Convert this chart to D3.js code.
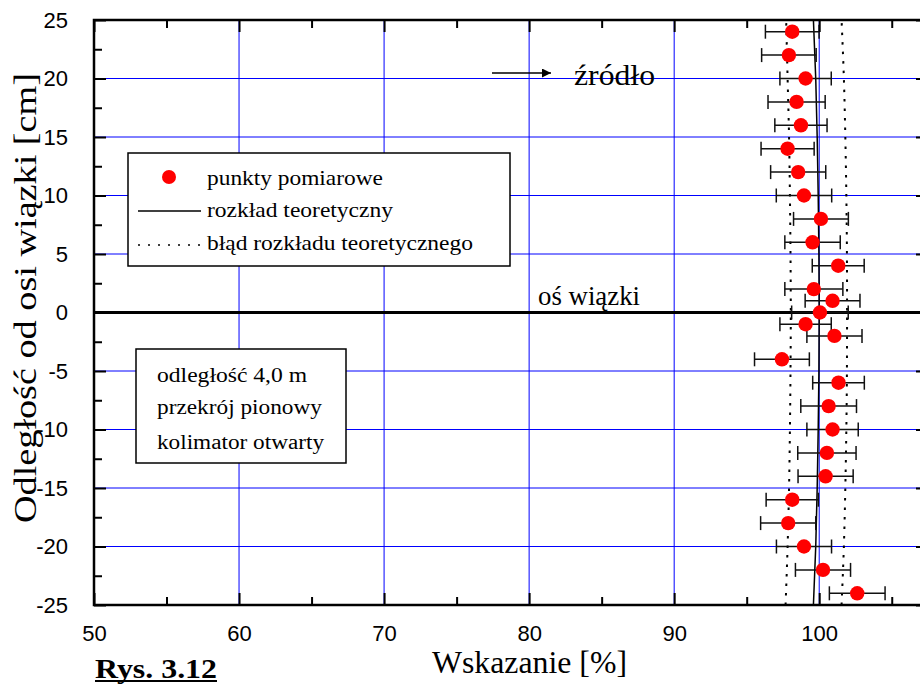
<!DOCTYPE html>
<html><head><meta charset="utf-8">
<script src="https://cdn.jsdelivr.net/npm/d3@7"></script>
<style>
body{margin:0;background:#fff;}
svg{display:block;}
</style></head>
<body>
<svg id="chart" width="920" height="684"></svg>
<script>
// ---- data ----
const distY = [24,22,20,18,16,14,12,10,8,6,4,2,1,0,-1,-2,-4,-6,-8,-10,-12,-14,-16,-18,-20,-22,-24];
const reading = [98.14,97.91,99.06,98.44,98.74,97.82,98.55,98.95,100.12,99.54,101.31,99.63,100.92,100.05,99.06,101.05,97.43,101.33,100.65,100.92,100.53,100.44,98.14,97.86,98.95,100.26,102.62];
const readingErr = [1.85,1.88,1.77,1.97,1.80,1.83,1.90,1.91,1.89,1.91,1.79,2.00,1.89,1.95,1.77,1.90,1.89,1.78,1.92,1.77,2.01,1.90,1.80,1.90,1.90,1.90,1.92];
const theoryY = [-25,-20,-15,-10,-5,0,5,10,15,20,25];
const theoryVal = [99.6,99.76,99.86,99.93,99.98,100,99.98,99.93,99.86,99.76,99.6];
const theoryLow = [97.68,97.82,97.92,97.98,98.02,98.04,98.02,97.98,97.92,97.82,97.72];
const theoryHigh = [101.54,101.7,101.8,101.87,101.91,101.92,101.91,101.87,101.8,101.7,101.54];
const xMajorTicks = [50,60,70,80,90,100];
const xMinorTicks = [55,65,75,85,95,105];
const yMajorTicks = [-25,-20,-15,-10,-5,0,5,10,15,20,25];
const yMinorTicks = [-22.5,-17.5,-12.5,-7.5,-2.5,2.5,7.5,12.5,17.5,22.5];
const xGrid = [60,70,80,90,100];
const yGrid = [-20,-15,-10,-5,5,10,15,20];
const legendLabels = ["punkty pomiarowe","rozkład teoretyczny","błąd rozkładu teoretycznego"];
const infoLines = ["odległość 4,0 m","przekrój pionowy","kolimator otwarty"];
const xTitle = "Wskazanie [%]";
const yTitle = "Odległość od osi wiązki [cm]";
const sourceLabel = "źródło";
const axisLabel = "oś wiązki";
const figLabel = "Rys. 3.12";

// ---- layout ----
const L = 94, R = 928, T = 20, B = 605;
const x = d3.scaleLinear().domain([50,107.5]).range([L,R]);
const y = d3.scaleLinear().domain([-25,25]).range([B,T]);
const svg = d3.select("#chart");
const serif = "Liberation Serif";
const sans = "Liberation Sans";

svg.append("defs").append("clipPath").attr("id","clip")
  .append("rect").attr("x",L).attr("y",T).attr("width",R-L).attr("height",B-T);

const plot = svg.append("g").attr("clip-path","url(#clip)");

// grid
plot.selectAll(".gx").data(xGrid).join("line")
  .attr("x1",d=>x(d)).attr("x2",d=>x(d)).attr("y1",T).attr("y2",B)
  .attr("stroke","#0000ff").attr("stroke-width",1);
plot.selectAll(".gy").data(yGrid).join("line")
  .attr("x1",L).attr("x2",R).attr("y1",d=>y(d)).attr("y2",d=>y(d))
  .attr("stroke","#0000ff").attr("stroke-width",1);
// beam axis line
plot.append("line").attr("x1",L).attr("x2",R).attr("y1",y(0)).attr("y2",y(0))
  .attr("stroke","#000").attr("stroke-width",3);

// theory
const pts = (vals)=>theoryY.map((v,i)=>[vals[i],v]);
const line = d3.line().x(d=>x(d[0])).y(d=>y(d[1])).curve(d3.curveMonotoneY);
plot.append("path").attr("d",line(pts(theoryVal))).attr("fill","none").attr("stroke","#000").attr("stroke-width",1.5);
plot.append("path").attr("d",line(pts(theoryLow))).attr("fill","none").attr("stroke","#000").attr("stroke-width",2).attr("stroke-dasharray","2.5,7");
plot.append("path").attr("d",line(pts(theoryHigh))).attr("fill","none").attr("stroke","#000").attr("stroke-width",2).attr("stroke-dasharray","2.5,7");

// error bars
const eb = plot.append("g").attr("stroke","#111").attr("stroke-width",1.5);
distY.forEach((dy,i)=>{
  const x0 = x(reading[i]-readingErr[i]), x1 = x(reading[i]+readingErr[i]), yy = y(dy);
  eb.append("line").attr("x1",x0).attr("x2",x1).attr("y1",yy).attr("y2",yy);
  eb.append("line").attr("x1",x0).attr("x2",x0).attr("y1",yy-7).attr("y2",yy+7);
  eb.append("line").attr("x1",x1).attr("x2",x1).attr("y1",yy-7).attr("y2",yy+7);
});
// points
plot.selectAll(".pt").data(distY).join("circle")
  .attr("cx",(d,i)=>x(reading[i])).attr("cy",d=>y(d)).attr("r",7.2).attr("fill","#ff0000");

// axes
const fmt = d=>String(d);
function styleAxis(g){
  g.select(".domain").remove();
  g.selectAll(".tick line").attr("stroke","#000").attr("stroke-width",2);
  g.selectAll("text").attr("font-family",sans).attr("font-size",22).attr("fill","#000");
}
svg.append("g").attr("transform",`translate(0,${B})`)
  .call(d3.axisBottom(x).tickValues(xMajorTicks).tickSize(-12).tickPadding(20).tickFormat(fmt)).call(styleAxis);
svg.append("g").attr("transform",`translate(0,${B})`)
  .call(d3.axisBottom(x).tickValues(xMinorTicks).tickSize(-8).tickFormat("")).call(styleAxis);
svg.append("g").attr("transform",`translate(0,${T})`)
  .call(d3.axisTop(x).tickValues(xMajorTicks).tickSize(-12).tickFormat("")).call(styleAxis);
svg.append("g").attr("transform",`translate(0,${T})`)
  .call(d3.axisTop(x).tickValues(xMinorTicks).tickSize(-8).tickFormat("")).call(styleAxis);
svg.append("g").attr("transform",`translate(${L},0)`)
  .call(d3.axisLeft(y).tickValues(yMajorTicks).tickSize(-12).tickPadding(26).tickFormat(fmt)).call(styleAxis);
svg.append("g").attr("transform",`translate(${L},0)`)
  .call(d3.axisLeft(y).tickValues(yMinorTicks).tickSize(-8).tickFormat("")).call(styleAxis);
svg.append("g").attr("transform",`translate(${R},0)`)
  .call(d3.axisRight(y).tickValues(yMajorTicks).tickSize(-12).tickFormat("")).call(styleAxis);
svg.append("g").attr("transform",`translate(${R},0)`)
  .call(d3.axisRight(y).tickValues(yMinorTicks).tickSize(-8).tickFormat("")).call(styleAxis);
svg.append("rect").attr("x",L).attr("y",T).attr("width",R-L).attr("height",B-T)
  .attr("fill","none").attr("stroke","#000").attr("stroke-width",2.5);

function stext(sel, size, len){
  sel.attr("font-family",serif).attr("font-size",size).attr("fill","#000");
  if(len) sel.attr("textLength",len).attr("lengthAdjust","spacingAndGlyphs");
  return sel;
}

// legend box
const lg = svg.append("g");
lg.append("rect").attr("x",128).attr("y",153).attr("width",382).attr("height",113)
  .attr("fill","#fff").attr("stroke","#000").attr("stroke-width",1.5);
lg.append("circle").attr("cx",169).attr("cy",177).attr("r",7).attr("fill","#ff0000");
lg.append("line").attr("x1",138).attr("x2",201).attr("y1",211).attr("y2",211).attr("stroke","#000").attr("stroke-width",1.3);
lg.append("line").attr("x1",138).attr("x2",201).attr("y1",245).attr("y2",245).attr("stroke","#000").attr("stroke-width",1.3).attr("stroke-dasharray","2,8");
const legLen = [176,186,266];
lg.selectAll("text").data(legendLabels).join("text")
  .attr("x",207).attr("y",(d,i)=>[185,217,250][i]).text(d=>d)
  .each(function(d,i){ stext(d3.select(this),21,legLen[i]); });

// info box
const ib = svg.append("g");
ib.append("rect").attr("x",136).attr("y",349).attr("width",210).attr("height",114)
  .attr("fill","#fff").attr("stroke","#000").attr("stroke-width",1.5);
const infoLen = [150,165,167];
ib.selectAll("text").data(infoLines).join("text")
  .attr("x",157).attr("y",(d,i)=>[382,414,449][i]).text(d=>d)
  .each(function(d,i){ stext(d3.select(this),20.5,infoLen[i]); });

// annotations
svg.append("defs").append("marker").attr("id","ah").attr("viewBox","0 0 10 10").attr("refX",10).attr("refY",5)
  .attr("markerWidth",17).attr("markerHeight",9).attr("markerUnits","userSpaceOnUse").attr("orient","auto")
  .append("path").attr("d","M0,0L10,5L0,10Z").attr("fill","#000");
svg.append("line").attr("x1",492).attr("x2",551).attr("y1",73).attr("y2",73)
  .attr("stroke","#000").attr("stroke-width",1.5).attr("marker-end","url(#ah)");
stext(svg.append("text").attr("x",574).attr("y",85).text(sourceLabel),29,81);
stext(svg.append("text").attr("x",538).attr("y",305).text(axisLabel),28,102);

// titles
stext(svg.append("text").attr("x",432).attr("y",673).text(xTitle),31,195);
stext(svg.append("text").attr("transform","translate(36,523) rotate(-90)").text(yTitle),32,450);
stext(svg.append("text").attr("x",95).attr("y",678).text(figLabel),28,122).attr("font-weight","bold");
svg.append("line").attr("x1",95).attr("x2",217).attr("y1",681).attr("y2",681).attr("stroke","#000").attr("stroke-width",2);
</script>
</body></html>
